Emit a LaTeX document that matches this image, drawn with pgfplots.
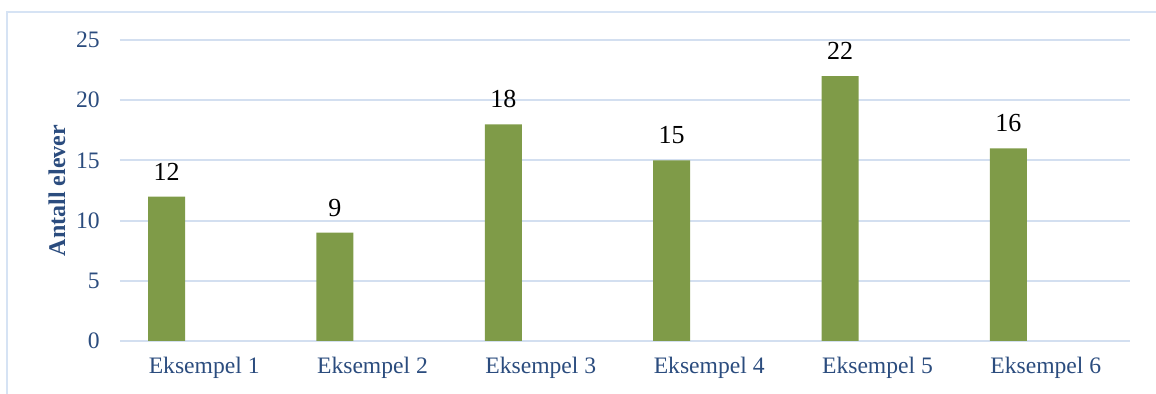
\documentclass[border=0pt]{standalone}
\usepackage{fontspec}
\setmainfont{Liberation Serif}
\usepackage{pgfplots}
\pgfplotsset{compat=1.18}
\definecolor{barGreen}{HTML}{7F9B48}
\definecolor{labelBlue}{HTML}{2B4C7E}
\definecolor{gridBlue}{HTML}{D3DFF0}
\definecolor{frameBlue}{HTML}{D6E3F4}
\begin{document}
\begin{tikzpicture}
\fontsize{11.7pt}{14pt}\selectfont
\useasboundingbox (-60pt,-26.5pt) rectangle (518pt,170.5pt);
% outer chart frame (left and top edges visible)
\draw[frameBlue, line width=1pt] (-56.5pt,-30pt) -- (-56.5pt,164.5pt) -- (525pt,164.5pt);
\begin{axis}[
  at={(0,0)}, anchor=south west,
  scale only axis,
  width=505pt, height=150.5pt,
  xmin=-0.5, xmax=5.5,
  ymin=0, ymax=25,
  ytick={0,5,10,15,20,25},
  xtick={0,1,2,3,4,5},
  xticklabels={Eksempel 1,Eksempel 2,Eksempel 3,Eksempel 4,Eksempel 5,Eksempel 6},
  /pgf/number format/assume math mode=true,
  tick label style={font=\fontsize{11.8pt}{14pt}\selectfont, text=labelBlue},
  yticklabel style={xshift=-6pt},
  xticklabel style={yshift=-4pt},
  major tick length=0pt,
  axis line style={draw=none},
  axis x line*=bottom,
  axis y line*=left,
  ymajorgrids,
  grid style={gridBlue, line width=1pt},
  extra y ticks={0},
  extra y tick labels={},
  extra y tick style={grid style={gridBlue, line width=1.2pt}},
  ylabel={Antall elever},
  every axis y label/.style={at={(axis description cs:-0.0624,0.5)}, rotate=90, anchor=center,
    font=\fontsize{12pt}{14pt}\selectfont\bfseries, text=labelBlue},
  ybar, bar width=18.5pt, bar shift=-18.75pt,
  nodes near coords,
  every node near coord/.append style={font=\fontsize{13pt}{15pt}\selectfont, text=black, yshift=4pt},
  clip=false,
]
\addplot[fill=barGreen, draw=none] coordinates {(0,12) (1,9) (2,18) (3,15) (4,22) (5,16)};
\end{axis}
\end{tikzpicture}
\end{document}
